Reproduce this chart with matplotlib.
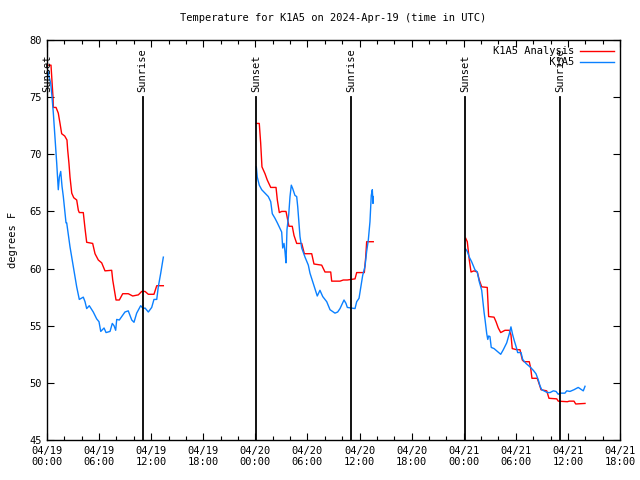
import numpy as np
import matplotlib
matplotlib.use("Agg")
import matplotlib.pyplot as plt
from matplotlib.ticker import MultipleLocator

nan = np.nan

# hours since 2024-04-19 00:00 UTC, nan breaks the line between nights
ana_hours = [0.0, 0.46, 0.69, 0.73, 1.04, 1.30, 1.50, 1.69, 2.04, 2.30, 2.38, 2.53, 2.65, 2.85,
             3.08, 3.42, 3.61, 3.72, 4.18, 4.38, 4.57, 5.26, 5.53, 5.91, 6.30, 6.68, 7.45, 7.57,
             7.95, 8.33, 8.72, 9.36, 9.87, 10.52, 10.91, 11.29, 11.67, 12.32, 12.64, 13.40, nan,
             24.11, 24.45, 24.61, 24.76, 25.11, 25.37, 25.77, 26.38, 26.53, 26.76, 27.03, 27.53,
             27.87, 28.25, 28.45, 28.76, 29.34, 29.64, 30.49, 30.75, 31.64, 32.02, 32.68, 32.79,
             33.75, 34.13, 34.59, 35.48, 35.67, 36.55, 36.71, 36.82, 37.58, nan,
             48.23, 48.41, 48.64, 48.84, 49.18, 49.56, 49.79, 50.07, 50.71, 50.87, 51.49, 51.72,
             51.98, 52.26, 52.75, 53.25, 53.44, 53.59, 54.10, 54.48, 54.75, 54.94, 55.55, 55.71,
             55.86, 56.47, 56.78, 56.90, 57.56, 57.82, 58.71, 58.89, 59.93, 60.16, 60.70, 60.90,
             61.97]
ana_temp = [77.8, 77.8, 75.0, 74.1, 74.1, 73.6, 72.7, 71.8, 71.6, 71.25, 70.4, 69.2, 68.0, 66.6,
            66.2, 66.0, 65.1, 64.9, 64.9, 63.5, 62.3, 62.2, 61.3, 60.75, 60.5, 59.8, 59.85, 59.0,
            57.25, 57.25, 57.8, 57.8, 57.6, 57.7, 58.0, 58.0, 57.75, 57.75, 58.5, 58.5, nan,
            72.7, 72.7, 71.0, 68.9, 68.3, 67.75, 67.1, 67.1, 66.0, 64.9, 65.0, 65.0,
            63.7, 63.7, 62.9, 62.2, 62.2, 61.3, 61.3, 60.4, 60.3, 59.7, 59.7, 58.9,
            58.9, 59.0, 59.0, 59.1, 59.65, 59.65, 61.0, 62.35, 62.35, nan,
            62.65, 62.35, 60.75, 59.7, 59.8, 59.7, 59.0, 58.4, 58.35, 55.8, 55.75, 55.35,
            54.8, 54.4, 54.6, 54.6, 54.2, 53.0, 52.9, 52.9, 52.0, 51.85, 51.85, 51.3,
            50.4, 50.4, 49.7, 49.4, 49.3, 48.65, 48.6, 48.4, 48.35, 48.4, 48.4, 48.15,
            48.2]

obs_hours = [0.0, 0.15, 0.43, 0.58, 0.73, 0.92, 1.12, 1.30, 1.42, 1.58, 1.73, 1.88, 2.19, 2.27,
             2.65, 3.03, 3.42, 3.72, 4.18, 4.38, 4.57, 4.87, 5.33, 5.72, 5.99, 6.19, 6.57, 6.80,
             7.26, 7.52, 7.72, 7.91, 8.03, 8.33, 8.98, 9.36, 9.76, 10.02, 10.33, 10.79, 11.09,
             11.29, 11.67, 12.06, 12.32, 12.64, 12.82, 13.10, 13.40, nan,
             24.11, 24.22, 24.45, 24.73, 25.11, 25.49, 25.77, 25.95, 26.26, 26.53, 26.84, 27.03,
             27.15, 27.30, 27.41, 27.53, 27.64, 27.84, 27.99, 28.14, 28.30, 28.56, 28.76, 28.88,
             28.99, 29.14, 29.34, 29.72, 30.10, 30.29, 30.67, 31.13, 31.44, 31.76, 32.22, 32.60,
             33.17, 33.48, 33.75, 34.21, 34.44, 34.59, 35.48, 35.67, 35.94, 36.13, 36.36, 36.63,
             36.82, 37.01, 37.20, 37.35, 37.47, 37.55, 37.58, nan,
             48.23, 48.41, 48.64, 48.91, 49.29, 49.56, 49.79, 50.07, 50.19, 50.34, 50.46, 50.65,
             50.77, 50.87, 51.02, 51.17, 51.49, 51.80, 52.26, 52.56, 52.95, 53.25, 53.44, 53.64,
             53.82, 54.10, 54.21, 54.60, 54.79, 55.17, 55.63, 56.01, 56.32, 56.59, 56.78, 56.98,
             57.36, 57.63, 57.94, 58.32, 58.63, 58.89, 59.09, 59.66, 59.86, 60.24, 60.70, 61.19,
             61.47, 61.77, 61.97]
obs_temp = [77.6, 77.1, 76.2, 75.0, 73.6, 71.5, 69.2, 66.9, 68.0, 68.5, 67.2, 66.3, 64.0, 64.0,
            61.9, 60.2, 58.4, 57.3, 57.5, 57.1, 56.5, 56.75, 56.2, 55.6, 55.35, 54.5, 54.8, 54.4,
            54.5, 55.2, 55.0, 54.6, 55.55, 55.5, 56.2, 56.3, 55.5, 55.3, 56.1, 56.75, 56.5,
            56.55, 56.2, 56.6, 57.3, 57.3, 58.4, 59.6, 61.0, nan,
            68.9, 68.0, 67.3, 66.9, 66.6, 66.3, 65.85, 64.8, 64.4, 64.0, 63.5, 63.2,
            61.8, 62.2, 61.5, 60.5, 63.4, 64.7, 66.3, 67.3, 67.0, 66.4, 66.3, 65.4,
            64.25, 62.8, 61.8, 61.0, 60.3, 59.6, 58.7, 57.6, 58.1, 57.55, 57.1, 56.4,
            56.1, 56.2, 56.5, 57.25, 56.95, 56.6, 56.5, 57.1, 57.4, 58.3, 59.4, 60.2,
            61.5, 62.5, 64.1, 66.4, 66.9, 65.7, 66.3, nan,
            61.7, 61.5, 61.0, 60.6, 59.9, 59.7, 58.85, 58.1, 57.25, 56.2, 55.5, 54.3,
            53.8, 54.1, 54.05, 53.1, 53.0, 52.8, 52.5, 52.9, 53.5, 54.3, 54.9, 54.2,
            53.7, 53.0, 52.65, 52.65, 52.05, 51.7, 51.4, 51.1, 50.8, 50.25, 49.75, 49.4,
            49.25, 49.15, 49.15, 49.3, 49.25, 49.0, 49.1, 49.1, 49.3, 49.25, 49.4, 49.6,
            49.45, 49.3, 49.7]

sun_hours = [0.0, 11.0, 24.1, 35.05, 48.18, 59.12]
sun_names = ["Sunset", "Sunrise", "Sunset", "Sunrise", "Sunset", "Sunrise"]

tick_hours = list(range(0, 67, 6))
tick_labels = ["04/19\n00:00", "04/19\n06:00", "04/19\n12:00", "04/19\n18:00",
               "04/20\n00:00", "04/20\n06:00", "04/20\n12:00", "04/20\n18:00",
               "04/21\n00:00", "04/21\n06:00", "04/21\n12:00", "04/21\n18:00"]

plt.rcParams['font.family'] = ['DejaVu Sans Mono']
plt.rcParams['font.size'] = 7

fig = plt.figure(figsize=(6.4, 4.8), dpi=100)
ax = fig.add_axes([47 / 640, 40 / 480, 573 / 640, 400 / 480])

ax.plot(ana_hours, ana_temp, color='#ff0000', lw=1, label='K1A5 Analysis')
ax.plot(obs_hours, obs_temp, color='#0a80ff', lw=1, label='         K1A5')

for h, name in zip(sun_hours, sun_names):
    ax.plot([h, h], [45, 75], color='black', lw=1.3)
    ax.text(h, 75.45, name, rotation=90, ha='center', va='bottom', fontsize=7.5)

ax.set_xlim(0, 66)
ax.set_ylim(45, 80)
ax.set_xticks(tick_hours)
ax.set_xticklabels(tick_labels)
ax.xaxis.set_minor_locator(MultipleLocator(2))
ax.set_yticks(range(45, 81, 5))
ax.tick_params(which='both', direction='in', top=True, right=True, labelsize=7.5, pad=4)
ax.tick_params(which='major', length=5, width=0.8)
ax.tick_params(which='minor', length=3, width=0.8)
for s in ax.spines.values():
    s.set_linewidth(1.0)

ax.set_ylabel('degrees F', fontsize=7.5, labelpad=8)
ax.set_title('Temperature for K1A5 on 2024-Apr-19 (time in UTC)', fontsize=7.5, pad=14)

leg = ax.legend(loc='upper right', frameon=False, markerfirst=False, handlelength=3.2,
                fontsize=7.5, borderaxespad=0.2, labelspacing=0.1, handletextpad=0.6)

fig.savefig('out.png', dpi=100)
